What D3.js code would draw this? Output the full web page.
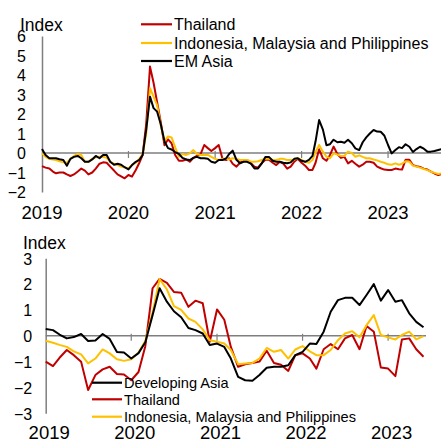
<!DOCTYPE html>
<html>
<head>
<meta charset="utf-8">
<script src="https://cdn.jsdelivr.net/npm/d3@7"></script>
<style>
  body { margin: 0; background: #fff; }
  svg { display: block; font-family: "Liberation Sans", Arial, sans-serif; }
</style>
</head>
<body>
<div id="chart"></div>
<script>
// Two stacked index charts: weekly-ish EM Asia panel and monthly Developing Asia panel

// Part I. Data

// top panel: two readings a month (1st and 16th), Jan 2019 - Aug 2023
var topDates = d3.range(112).map(k => new Date(2019, Math.floor(k / 2), k % 2 ? 16 : 1));

var topThailand = [
  -0.67, -0.75, -0.79, -0.95, -1.04, -1.0, -1.0, -1.1, -1.18, -1.1, -0.95, -0.8,
  -0.9, -1.1, -1.0, -0.8, -0.55, -0.48, -0.5, -0.7, -0.9, -1.1, -1.2, -1.3,
  -1.13, -1.21, -0.87, -0.5, -0.1, 1.5, 4.43, 3.6, 2.6, 1.6, 0.4, 0.7,
  0.5, -0.1, -0.4, -0.4, -0.33, -0.45, -0.25, -0.15, -0.05, 0.41, 0.25, 0.1,
  0.25, 0.41, -0.3, -0.36, -0.27, -0.55, -0.7, -0.5, -0.4, -0.36, -0.53, -0.7,
  -0.75, -0.53, -0.35, -0.35, -0.5, -0.62, -0.45, -0.55, -0.8, -0.7, -0.45, -0.3,
  -0.5, -0.65, -0.87, -0.87, -0.5, 0.19, -0.27, -0.4, -0.1, 0.33, -0.05, -0.25,
  -0.2, -0.53, -0.4, -0.55, -0.7, -0.6, -0.45, -0.45, -0.5, -0.7, -0.78, -0.85,
  -0.87, -0.87, -0.8, -0.83, -0.85, -0.35, -0.35, -0.62, -0.68, -0.72, -0.8, -0.85,
  -0.95, -1.05, -1.13, -1.08
];
var topIMP = [
  -0.02, -0.2, -0.3, -0.33, -0.36, -0.42, -0.48, -0.5, -0.3, -0.15, -0.05, -0.1,
  -0.45, -0.45, -0.3, -0.22, -0.19, -0.19, -0.25, -0.45, -0.55, -0.62, -0.7, -0.75,
  -0.79, -0.62, -0.5, -0.3, -0.05, 1.0, 3.32, 2.89, 2.46, 1.45, 0.6, 0.85,
  0.8, 0.3, -0.19, -0.05, -0.1, -0.02, 0.15, -0.05, -0.1, -0.1, -0.1, -0.2,
  -0.3, -0.36, -0.3, -0.3, -0.33, -0.27, -0.3, -0.36, -0.36, -0.36, -0.45, -0.45,
  -0.42, -0.36, -0.3, -0.3, -0.36, -0.36, -0.3, -0.3, -0.36, -0.36, -0.33, -0.27,
  -0.35, -0.45, -0.5, -0.36, 0.05, 0.41, 0.07, -0.19, -0.27, -0.02, -0.08, -0.15,
  -0.15, 0.07, 0.0, -0.19, -0.12, -0.2, -0.27, -0.27, -0.33, -0.38, -0.45, -0.5,
  -0.58, -0.6, -0.53, -0.6, -0.55, -0.42, -0.45, -0.65, -0.7, -0.75, -0.82, -0.88,
  -0.96, -1.02, -1.08, -1.04
];
var topEMAsia = [
  0.2, -0.1, -0.27, -0.27, -0.27, -0.32, -0.36, -0.65, -0.3, -0.2, -0.15, -0.27,
  -0.45, -0.45, -0.33, -0.15, -0.27, -0.1, -0.1, -0.45, -0.6, -0.55, -0.6, -0.73,
  -0.84, -0.62, -0.45, -0.35, -0.1, 1.2, 2.89, 2.3, 2.12, 1.5, 0.6, 0.25,
  0.18, 0.05, -0.05, -0.25, -0.33, -0.36, -0.25, -0.2, -0.27, -0.27, -0.3, -0.45,
  -0.5, -0.36, -0.36, -0.28, -0.05, 0.12, -0.35, -0.53, -0.45, -0.45, -0.55, -0.79,
  -0.79, -0.55, -0.2, -0.2, -0.4, -0.45, -0.45, -0.5, -0.53, -0.48, -0.3, -0.27,
  -0.4, -0.45, -0.35, -0.15, 0.6, 1.69, 1.2, 0.4, 0.45, 0.68, 0.55, 0.58,
  0.53, 0.68, 0.5, 0.24, 0.15, 0.55, 0.8, 1.0, 1.18, 1.1, 1.09, 0.9,
  0.41, -0.02, 0.15, 0.3, 0.25, 0.45, 0.32, 0.05, 0.2, 0.32, 0.22, 0.07,
  0.07, 0.1, 0.15, 0.2
];

// bottom panel: monthly, Jan 2019 - Jun 2023
var months = d3.range(54).map(m => new Date(2019, m, 1));

var botDevAsia = [
  0.26, 0.22, 0.05, -0.1, -0.05, 0.07, -0.2, -0.18, 0.07, -0.12, -0.63, -0.65,
  -0.88, -0.67, -0.25, 0.8, 1.84, 1.32, 0.95, 0.72, 0.3, 0.22, 0.09, -0.36,
  -0.3, -0.43, -0.88, -1.59, -1.72, -1.74, -1.52, -1.24, -1.2, -1.2, -1.14, -0.75,
  -0.62, -0.3, -0.32, 0.16, 0.93, 1.38, 1.47, 1.47, 1.19, 1.58, 2.0, 1.36,
  1.77, 1.32, 1.38, 0.87, 0.54, 0.33
];
var botThailand = [
  -1.0, -1.17, -0.85, -0.55, -0.75, -1.0, -2.1, -1.52, -1.3, -1.2, -1.48, -1.5,
  -1.72, -1.4, -0.4, 1.84, 2.2, 2.05, 1.7, 1.67, 1.12, 1.36, 1.26, -0.23,
  1.02, 0.62, -0.43, -1.2, -1.1, -1.05, -1.0, -0.58, -1.05, -1.12, -1.36, -0.75,
  -0.68, -0.88, -1.27, -0.52, -0.32, -0.52, -0.1, 0.03, -0.52, 0.38, 0.16, -1.23,
  -1.27, -1.56, -0.14, -0.1, -0.52, -0.81
];
var botIMP = [
  -0.19, -0.27, -0.35, -0.43, -0.6, -0.72, -1.07, -0.88, -0.53, -0.68, -0.91, -0.97,
  -0.91, -0.65, -0.2, 0.9, 2.2, 1.8, 1.15, 1.0, 0.67, 0.54, 0.25, -0.17,
  -0.23, -0.3, -0.55, -1.1, -1.07, -1.05, -0.88, -0.47, -0.62, -0.55, -0.88, -0.53,
  -0.4, -0.6, -0.75, -0.75, -0.55, -0.17, 0.09, 0.18, -0.06, 0.41, 0.8, 0.03,
  -0.06, -0.14, 0.03, 0.16, -0.14, -0.01
];

var topTicks = [-2, -1, 0, 1, 2, 3, 4, 5, 6];
var botTicks = [-3, -2, -1, 0, 1, 2, 3];

var red = "#c00000", gold = "#ffc000", black = "#000000", axisGrey = "#7f7f7f";

// Part II. Build the svg

var svg = d3.select("#chart")
    .append("svg")
    .attr("width", 441)
    .attr("height", 440);

function panel(opt) {
    var g = svg.append("g");

    var x = d3.scaleTime().domain(opt.xDomain).range(opt.xRange);
    var y = d3.scaleLinear().domain(opt.yDomain).range(opt.yRange);

    // y axis: plain line with labels
    var leftAxis = d3.axisLeft(y)
        .tickValues(opt.yTicks)
        .tickSize(0)
        .tickPadding(opt.labelPad)
        .tickFormat(d3.format("d"));
    var ya = g.append("g")
        .attr("transform", "translate(" + opt.xRange[0] + ",0)")
        .call(leftAxis);
    ya.select(".domain").attr("stroke", axisGrey).attr("stroke-width", 1.5);
    ya.selectAll("text")
        .attr("fill", "#000")
        .attr("font-size", "16px")
        .attr("font-family", "Liberation Sans, Arial, sans-serif")
        .attr("dy", "0.36em");

    // zero line and year ticks
    g.append("line")
        .attr("x1", opt.xRange[0]).attr("x2", opt.zeroEnd)
        .attr("y1", y(0)).attr("y2", y(0))
        .attr("stroke", axisGrey).attr("stroke-width", 1.5);

    var years = d3.timeYear.range(new Date(2020, 0, 1), new Date(2024, 0, 1));
    g.selectAll(".ytick")
        .data(years)
        .enter()
        .append("line")
        .attr("x1", d => x(d)).attr("x2", d => x(d))
        .attr("y1", y(0) - 2).attr("y2", y(0) + 5)
        .attr("stroke", axisGrey).attr("stroke-width", 1.2);

    g.selectAll(".yearLabel")
        .data([new Date(2019, 0, 1)].concat(years))
        .enter()
        .append("text")
        .attr("x", d => x(d) + opt.yearShift)
        .attr("y", opt.yearY)
        .attr("text-anchor", "middle")
        .attr("font-size", "18.5px")
        .text(d => d3.timeFormat("%Y")(d));

    g.append("text")
        .attr("x", opt.indexX)
        .attr("y", opt.indexY)
        .attr("font-size", "17.5px")
        .text("Index");

    // series lines
    var line = d3.line()
        .x((d, i) => x(opt.dates[i]))
        .y(d => y(d));

    opt.series.forEach(s => {
        g.append("path")
            .datum(s.values)
            .attr("fill", "none")
            .attr("stroke", s.color)
            .attr("stroke-width", 2)
            .attr("stroke-linejoin", "round")
            .attr("d", line);
    });

    // legend
    opt.legend.forEach((s, i) => {
        var ly = opt.legendY[i];
        g.append("line")
            .attr("x1", opt.legendX[0]).attr("x2", opt.legendX[1])
            .attr("y1", ly).attr("y2", ly)
            .attr("stroke", s.color).attr("stroke-width", 2.2);
        g.append("text")
            .attr("x", opt.legendX[1] + 2)
            .attr("y", ly)
            .attr("dy", "0.36em")
            .attr("font-size", opt.legendSize)
            .text(s.name);
    });
}

// Part III. Draw both panels

panel({
    dates: topDates,
    xDomain: [new Date(2019, 0, 1), new Date(2024, 0, 1)],
    xRange: [42, 474.5],
    yDomain: [-2, 6],
    yRange: [192, 36],
    yTicks: topTicks,
    labelPad: 16,
    zeroEnd: 441,
    yearY: 219,
    yearShift: 0,
    indexX: 20,
    indexY: 30.5,
    series: [
        {values: topThailand, color: red},
        {values: topIMP, color: gold},
        {values: topEMAsia, color: black}
    ],
    legend: [
        {name: "Thailand", color: red},
        {name: "Indonesia, Malaysia and Philippines", color: gold},
        {name: "EM Asia", color: black}
    ],
    legendX: [141, 172],
    legendY: [24.3, 43, 61],
    legendSize: "16px"
});

panel({
    dates: months,
    xDomain: [new Date(2019, 0, 1), new Date(2023, 5, 1)],
    xRange: [45.7, 423.5],
    yDomain: [-3, 3],
    yRange: [413.3, 258.3],
    yTicks: botTicks,
    labelPad: 13.5,
    zeroEnd: 426,
    yearY: 439,
    yearShift: 3.5,
    indexX: 23,
    indexY: 249,
    series: [
        {values: botThailand, color: red},
        {values: botIMP, color: gold},
        {values: botDevAsia, color: black}
    ],
    legend: [
        {name: "Developing Asia", color: black},
        {name: "Thailand", color: red},
        {name: "Indonesia, Malaysia and Philippines", color: gold}
    ],
    legendX: [92, 122],
    legendY: [382.7, 399.3, 416.7],
    legendSize: "14.6px"
});
</script>
</body>
</html>
